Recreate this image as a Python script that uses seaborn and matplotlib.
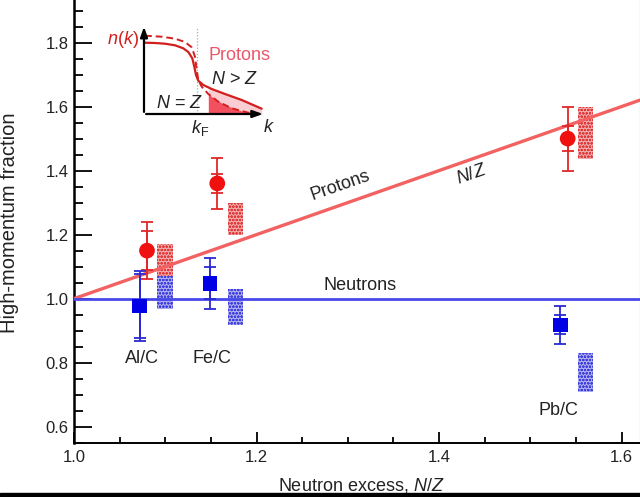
import numpy as np
import pandas as pd
import seaborn as sns
import matplotlib
matplotlib.use("Agg")
import matplotlib.pyplot as plt
from matplotlib.ticker import MultipleLocator, FormatStrFormatter
from matplotlib.patches import Rectangle

# ---------------- data ----------------
targets = ["Al/C", "Fe/C", "Pb/C"]

# protons (red circles)
p_x = [1.080, 1.157, 1.541]
p_y = [1.15, 1.36, 1.50]
p_stat = [0.06, 0.03, 0.04]
p_tot = [0.09, 0.08, 0.10]

# neutrons (blue squares)
n_x = [1.072, 1.149, 1.533]
n_y = [0.977, 1.048, 0.918]
n_stat = [0.10, 0.05, 0.03]
n_tot = [0.11, 0.08, 0.06]

# hatched theory bands
band_x = [1.0997, 1.177, 1.561]
p_band_lo = [1.07, 1.20, 1.436]
p_band_hi = [1.17, 1.298, 1.598]
n_band_lo = [0.967, 0.917, 0.709]
n_band_hi = [1.07, 1.029, 0.829]

# reference lines
line_x = [1.0, 1.62]
line_prot = [1.0, 1.62]   # N/Z
line_neut = [1.0, 1.0]

# label positions
label_x = [1.0745, 1.1509, 1.5313]
label_y = [0.8125, 0.8125, 0.652]

xticks = [1.0, 1.2, 1.4, 1.6]
yticks = [0.6, 0.8, 1.0, 1.2, 1.4, 1.6, 1.8]

# inset schematic curves (inset pixel units)
solid_k = [1, 11, 21, 31, 39.3, 44.3, 48.3, 50.3, 52, 54.3, 59.3, 67.7, 81, 97.7, 117.7]
solid_n = [71.3, 71, 70.3, 68.7, 65.7, 62, 55.7, 47.3, 39, 33.3, 29, 25, 20, 14, 5.3]
dash_k = [1, 17.7, 31, 41, 47.7, 51, 52.7, 54.3, 57.7, 64.3, 74.3, 87.7, 104.3, 114.3]
dash_n = [78.3, 77.3, 75.3, 72, 66.7, 57.3, 44, 34, 27.3, 20, 12.3, 5.7, 1.3, 0.3]
kF_pos = 53.0
shade_start = 64.3

# ---------------- figure ----------------
sns.set_theme(style="ticks")
plt.rcParams["font.family"] = ["Liberation Sans", "DejaVu Sans"]
plt.rcParams["hatch.linewidth"] = 0.7
plt.rcParams["mathtext.fontset"] = "custom"
plt.rcParams["mathtext.it"] = "Liberation Sans:italic"
plt.rcParams["mathtext.rm"] = "Liberation Sans"

W, H = 640, 497
fig = plt.figure(figsize=(6.4, 4.97), dpi=100)
fig.patch.set_facecolor("white")
ax = fig.add_axes([74 / W, (H - 443) / H, (639.5 - 74) / W, 443 / H])
ax.set_facecolor("white")

RED = "#f01010"
RED_ERR = "#e02828"
RED_LINE = "#f26262"
BLUE = "#0000e6"
BLUE_ERR = "#2a2ad2"
BLUE_LINE = "#4848ea"

# reference lines
sns.lineplot(x=line_x, y=line_prot, ax=ax, color=RED_LINE, linewidth=2.4, zorder=3)
sns.lineplot(x=line_x, y=line_neut, ax=ax, color=BLUE_LINE, linewidth=2.0, zorder=3)

# hatched bands
bw = 0.0165
ax.bar(band_x, np.array(p_band_hi) - np.array(p_band_lo), bottom=p_band_lo, width=bw,
       color="#f2aeae", edgecolor="#e03a3a", hatch="ooooo", linewidth=0, zorder=2)
ax.bar(band_x, np.array(n_band_hi) - np.array(n_band_lo), bottom=n_band_lo, width=bw,
       color="#b2b2f2", edgecolor="#4040dc", hatch="ooooo", linewidth=0, zorder=2)

# error bars (total and statistical)
for xs, ys, st, tt, c in [(p_x, p_y, p_stat, p_tot, RED_ERR), (n_x, n_y, n_stat, n_tot, BLUE_ERR)]:
    ax.errorbar(xs, ys, yerr=tt, fmt="none", ecolor=c, elinewidth=1.3, capsize=4.3,
                capthick=1.3, zorder=4)
    ax.errorbar(xs, ys, yerr=st, fmt="none", ecolor=c, elinewidth=1.3, capsize=4.3,
                capthick=1.3, zorder=4)

# markers
df_p = pd.DataFrame({"x": p_x, "y": p_y, "target": targets})
df_n = pd.DataFrame({"x": n_x, "y": n_y, "target": targets})
sns.scatterplot(data=df_p, x="x", y="y", ax=ax, marker="o", s=128, color=RED,
                edgecolor="none", zorder=5, legend=False)
sns.scatterplot(data=df_n, x="x", y="y", ax=ax, marker="s", s=112, color=BLUE,
                edgecolor="none", zorder=5, legend=False)

# axes limits, ticks
ax.set_xlim(1.0, 1.6197)
ax.set_ylim(0.549, 1.933)
ax.set_xticks(xticks)
ax.set_yticks(yticks)
ax.xaxis.set_minor_locator(MultipleLocator(0.05))
ax.yaxis.set_minor_locator(MultipleLocator(0.05))
ax.xaxis.set_major_formatter(FormatStrFormatter("%.1f"))
ax.yaxis.set_major_formatter(FormatStrFormatter("%.1f"))
ax.tick_params(axis="y", which="major", direction="in", length=13, width=1.3,
               labelsize=12, pad=4, colors="black", labelcolor="#222222")
ax.tick_params(axis="y", which="minor", direction="in", length=6.5, width=1.3, colors="black")
ax.tick_params(axis="x", which="major", direction="in", length=8, width=1.3,
               labelsize=12, pad=5, colors="black", labelcolor="#222222")
ax.tick_params(axis="x", which="minor", direction="in", length=4.3, width=1.3, colors="black")

for s in ["left", "bottom"]:
    ax.spines[s].set_color("black")
ax.spines["left"].set_linewidth(1.8)
ax.spines["bottom"].set_linewidth(1.4)
ax.spines["top"].set_visible(False)
ax.spines["right"].set_color("#999999")
ax.spines["right"].set_linewidth(0.8)

ax.set_xlabel("Neutron excess, $\\mathit{N/Z}$", fontsize=13, color="#222222")
ax.xaxis.set_label_coords((361.5 - 74) / 565.5, -(476 - 443) / 443)
ax.set_ylabel("High-momentum fraction", fontsize=14.5, color="#222222")
ax.yaxis.set_label_coords((19 - 74) / 565.5, (443 - 223) / 443)

# annotations
for t, lx, ly in zip(targets, label_x, label_y):
    ax.text(lx, ly, t, fontsize=13, color="#222222", ha="center", va="center", zorder=6)
ax.text(1.3134, 1.0406, "Neutrons", fontsize=13, color="#222222", ha="center", va="center")
ax.text(1.2915, 1.352, "Protons", fontsize=13, color="#222222", ha="center", va="center",
        rotation=19.3, rotation_mode="anchor")
ax.text(1.4358, 1.3866, "$\\mathit{N/Z}$", fontsize=13, color="#222222", ha="center",
        va="center", rotation=19.3, rotation_mode="anchor")

# ---------------- inset ----------------
ix0, iy0, ix1, iy1 = 144, 114, 265.7, 24
axi = fig.add_axes([ix0 / W, (H - iy0) / H, (ix1 - ix0) / W, (iy0 - iy1) / H])
axi.set_xlim(0, ix1 - ix0)
axi.set_ylim(0, iy0 - iy1)
axi.axis("off")
axi.patch.set_alpha(0)

sk = np.array(solid_k); sn = np.array(solid_n)
dk = np.array(dash_k); dn = np.array(dash_n)
# shaded regions beyond shade_start
grid_k = np.concatenate([[shade_start], sk[sk > shade_start]])
sol_on = np.interp(grid_k, sk, sn)
das_on = np.interp(grid_k, dk, dn)
axi.fill_between(grid_k, das_on, sol_on, color="#f9cdd2", linewidth=0, zorder=1)
axi.fill_between(grid_k, 0, das_on, color="#f2505f", linewidth=0, zorder=1)
axi.plot([kF_pos, kF_pos], [0, 86], color="#aaaaaa", linestyle=(0, (1, 1.5)), linewidth=0.9, zorder=1)
axi.plot(sk, sn, color="#d41e1e", linewidth=1.6, zorder=3)
axi.plot(dk, dn, color="#d41e1e", linewidth=1.4, linestyle=(0, (3.5, 2)), zorder=3)
axi.annotate("", xy=(0, iy0 - iy1), xytext=(0, -0.7),
             arrowprops=dict(arrowstyle="-|>,head_length=0.5,head_width=0.18", color="black", lw=1.6))
axi.annotate("", xy=(ix1 - ix0, 0), xytext=(-0.7, 0),
             arrowprops=dict(arrowstyle="-|>,head_length=0.5,head_width=0.18", color="black", lw=1.6))

axi.text(123 - ix0, iy0 - 40, "$\\mathit{n}$($\\mathit{k}$)", fontsize=13, color="#d41e1e",
         ha="center", va="center", clip_on=False)
axi.text(240 - ix0, iy0 - 55, "Protons", fontsize=13, color="#e8586a", ha="center", va="center")
axi.text(235 - ix0, iy0 - 79, "$\\mathit{N}$ > $\\mathit{Z}$", fontsize=13, color="#222222",
         ha="center", va="center")
axi.text(180 - ix0, iy0 - 103, "$\\mathit{N}$ = $\\mathit{Z}$", fontsize=13, color="#222222",
         ha="center", va="center")
axi.text(200 - ix0, iy0 - 128, "$\\mathit{k}_{\\mathrm{F}}$", fontsize=13, color="#222222",
         ha="center", va="center", clip_on=False)
axi.text(269 - ix0, iy0 - 127, "$\\mathit{k}$", fontsize=13, color="#222222",
         ha="center", va="center", clip_on=False)

# black strip at the bottom of the picture
fig.add_artist(Rectangle((0, 0), 1, 4 / H, transform=fig.transFigure, color="black", zorder=10))

fig.savefig("out.png", dpi=100)
